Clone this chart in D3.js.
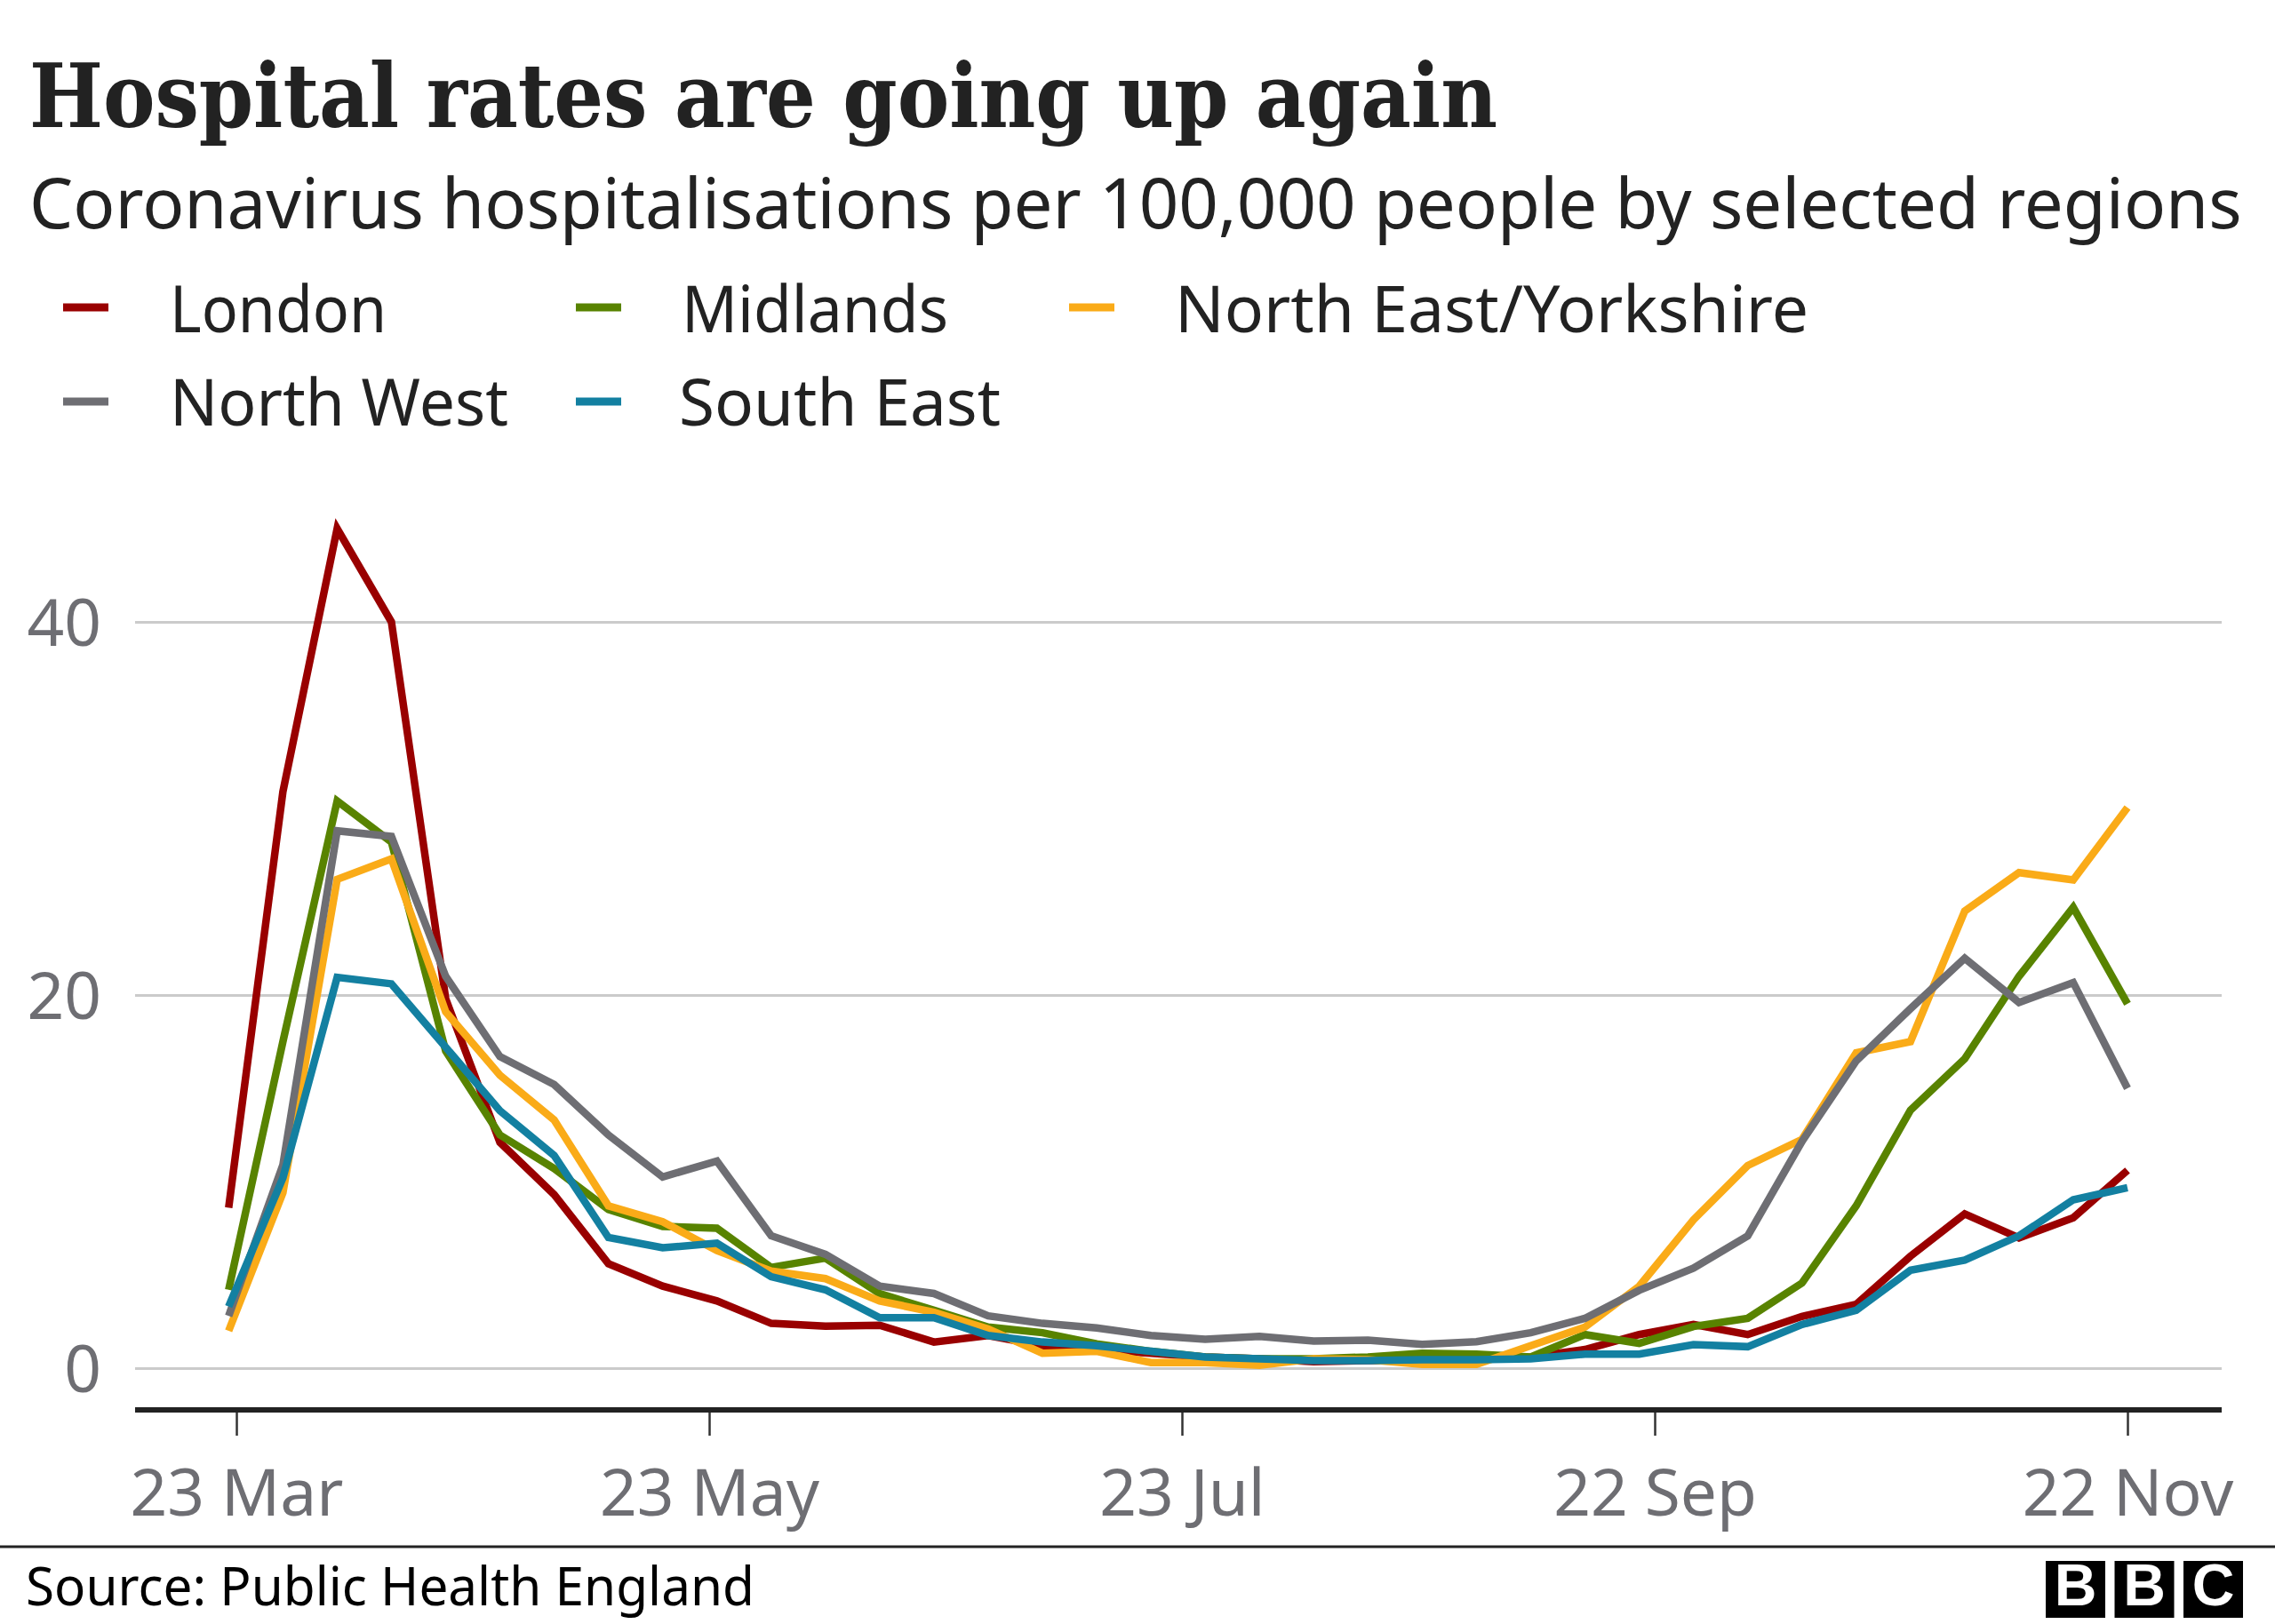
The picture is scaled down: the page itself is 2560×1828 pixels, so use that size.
<!DOCTYPE html>
<html>
<head>
<meta charset="utf-8">
<script src="https://cdn.jsdelivr.net/npm/d3@7"></script>
<style>
  html, body { margin: 0; padding: 0; background: #fff; }
  svg { display: block; }
</style>
</head>
<body>
<svg id="chart" width="2560" height="1828"></svg>
<script>
// ---------- DATA ----------
const dates = [
  "2020-03-22","2020-03-29","2020-04-05","2020-04-12","2020-04-19","2020-04-26",
  "2020-05-03","2020-05-10","2020-05-17","2020-05-24","2020-05-31","2020-06-07",
  "2020-06-14","2020-06-21","2020-06-28","2020-07-05","2020-07-12","2020-07-19",
  "2020-07-26","2020-08-02","2020-08-09","2020-08-16","2020-08-23","2020-08-30",
  "2020-09-06","2020-09-13","2020-09-20","2020-09-27","2020-10-04","2020-10-11",
  "2020-10-18","2020-10-25","2020-11-01","2020-11-08","2020-11-15","2020-11-22"
];
const seriesNames = ["London", "Midlands", "North East/Yorkshire", "North West", "South East"];
const london = [8.6, 30.9, 45.0, 40.0, 19.8, 12.1, 9.3, 5.6, 4.4, 3.6, 2.4, 2.25, 2.3, 1.4, 1.75, 1.2, 1.0, 0.8,
  0.6, 0.5, 0.35, 0.4, 0.4, 0.45, 0.6, 1.0, 1.8, 2.34, 1.8, 2.77, 3.42, 6.0, 8.27, 6.98, 8.06, 10.6];
const midlands = [4.2, 17.5, 30.4, 28.2, 17.0, 12.5, 10.7, 8.5, 7.6, 7.5, 5.4, 5.9, 4.0, 3.1, 2.2, 1.9, 1.3, 0.9,
  0.6, 0.5, 0.5, 0.6, 0.8, 0.75, 0.6, 1.8, 1.33, 2.23, 2.67, 4.56, 8.7, 13.83, 16.58, 21.0, 24.7, 19.53];
const northEastYorkshire = [2.0, 9.4, 26.2, 27.3, 19.1, 15.7, 13.3, 8.7, 7.85, 6.3, 5.2, 4.8, 3.6, 3.0, 2.1, 0.8, 0.9, 0.3,
  0.3, 0.15, 0.5, 0.45, 0.2, 0.2, 1.2, 2.2, 4.39, 7.95, 10.86, 12.26, 16.9, 17.5, 24.5, 26.56, 26.17, 30.05];
const northWest = [2.8, 10.9, 28.8, 28.5, 21.0, 16.7, 15.2, 12.5, 10.25, 11.1, 7.1, 6.1, 4.4, 4.0, 2.8, 2.4, 2.15, 1.75,
  1.55, 1.7, 1.45, 1.5, 1.27, 1.42, 1.9, 2.67, 4.17, 5.36, 7.09, 12.15, 16.47, 19.27, 21.97, 19.6, 20.67, 15.0];
const southEast = [3.3, 10.2, 20.95, 20.6, 17.2, 13.8, 11.4, 7.0, 6.45, 6.7, 4.9, 4.2, 2.7, 2.7, 1.75, 1.4, 1.2, 0.9,
  0.6, 0.5, 0.4, 0.4, 0.45, 0.45, 0.5, 0.75, 0.75, 1.26, 1.15, 2.34, 3.1, 5.25, 5.79, 7.09, 9.02, 9.67];
const seriesColors = ["#990000", "#588300", "#FAAB18", "#6E6E73", "#1380A1"];
const xTickDates = ["2020-03-23", "2020-05-23", "2020-07-23", "2020-09-22", "2020-11-22"];
const yTickValues = [0, 20, 40];

// ---------- SETUP ----------
const parse = d3.utcParse("%Y-%m-%d");
const svg = d3.select("#chart");
svg.append("rect").attr("width", 2560).attr("height", 1828).attr("fill", "#fff");

const SANS = "'Noto Sans', 'Open Sans', sans-serif";
const SERIF = "'DejaVu Serif Condensed', 'DejaVu Serif', serif";

const x = d3.scaleUtc()
  .domain([parse(dates[0]), parse(dates[dates.length - 1])])
  .range([257.3, 2394]);
const y = d3.scaleLinear().domain([0, 40]).range([1540, 700]);

const plotLeft = 152, plotRight = 2500;

// ---------- TITLES ----------
svg.append("text")
  .attr("x", 33).attr("y", 143)
  .attr("font-family", SERIF).attr("font-weight", "bold").attr("font-size", 100)
  .attr("fill", "#222222")
  .attr("textLength", 1652).attr("lengthAdjust", "spacingAndGlyphs")
  .text("Hospital rates are going up again");

// subtitle: sized so that its natural width fits inside the page
const sub = svg.append("text")
  .attr("x", 33).attr("y", 257)
  .attr("font-family", SANS).attr("font-size", 80)
  .attr("fill", "#222222")
  .text("Coronavirus hospitalisations per 100,000 people by selected regions");
const subW = sub.node().getComputedTextLength();
const subTarget = 2490;
if (subW > subTarget) sub.attr("font-size", 80 * subTarget / subW);

// ---------- LEGEND ----------
const legendLayout = [
  { sx: 71, lx: 191, cy: 346, base: 374, w: 244 },
  { sx: 648, lx: 767, cy: 346, base: 374, w: 300 },
  { sx: 1203, lx: 1322, cy: 346, base: 374, w: 713 },
  { sx: 71, lx: 191, cy: 452, base: 479, w: 381 },
  { sx: 648, lx: 764, cy: 452, base: 479, w: 362 }
];
const legend = svg.append("g");
seriesNames.forEach((name, i) => {
  const L = legendLayout[i];
  legend.append("rect")
    .attr("x", L.sx).attr("y", L.cy - 4.5).attr("width", 51).attr("height", 9)
    .attr("fill", seriesColors[i]);
  legend.append("text")
    .attr("x", L.lx).attr("y", L.base)
    .attr("font-family", SANS).attr("font-size", 73).attr("fill", "#222222")
    .attr("textLength", L.w).attr("lengthAdjust", "spacingAndGlyphs")
    .text(name);
});

// ---------- Y AXIS / GRID ----------
const yAxis = d3.axisLeft(y).tickValues(yTickValues).tickSize(-(plotRight - plotLeft)).tickFormat(d3.format("d"));
const gy = svg.append("g").attr("transform", `translate(${plotLeft},0)`).call(yAxis);
gy.select(".domain").remove();
gy.selectAll(".tick line").attr("stroke", "#cbcbcb").attr("stroke-width", 3);
gy.selectAll(".tick text")
  .attr("x", -38).attr("dy", null).attr("y", 26)
  .attr("text-anchor", "end")
  .attr("font-family", SANS).attr("font-size", 73).attr("fill", "#6e6e73");

// ---------- X AXIS ----------
svg.append("line")
  .attr("x1", plotLeft).attr("x2", plotRight).attr("y1", 1587).attr("y2", 1587)
  .attr("stroke", "#222222").attr("stroke-width", 6);
const xAxis = d3.axisBottom(x)
  .tickValues(xTickDates.map(parse))
  .tickFormat(d3.utcFormat("%-d %b"))
  .tickSize(26);
const gx = svg.append("g").attr("transform", "translate(0,1590)").call(xAxis);
gx.select(".domain").remove();
gx.selectAll(".tick line").attr("stroke", "#333333").attr("stroke-width", 2.5);
gx.selectAll(".tick text")
  .attr("dy", null).attr("y", 116)
  .attr("font-family", SANS).attr("font-size", 73).attr("fill", "#6e6e73");

// ---------- LINES ----------
const allSeries = [london, midlands, northEastYorkshire, northWest, southEast];
const line = d3.line()
  .x((d, i) => x(parse(dates[i])))
  .y(d => y(d));
const gl = svg.append("g");
allSeries.forEach((vals, i) => {
  gl.append("path")
    .datum(vals)
    .attr("d", line)
    .attr("fill", "none")
    .attr("stroke", seriesColors[i])
    .attr("stroke-width", 8.5)
    .attr("stroke-linejoin", "miter")
    .attr("stroke-linecap", "butt");
});

// ---------- FOOTER ----------
svg.append("line")
  .attr("x1", 0).attr("x2", 2560).attr("y1", 1741).attr("y2", 1741)
  .attr("stroke", "#222222").attr("stroke-width", 3);
svg.append("text")
  .attr("x", 29).attr("y", 1807)
  .attr("font-family", SANS).attr("font-size", 60).attr("fill", "#000000")
  .attr("textLength", 820).attr("lengthAdjust", "spacingAndGlyphs")
  .text("Source: Public Health England");

const logo = svg.append("g");
["B", "B", "C"].forEach((ch, i) => {
  const bx = 2302 + i * 77.5;
  logo.append("rect").attr("x", bx).attr("y", 1757).attr("width", 67).attr("height", 64).attr("fill", "#000");
  logo.append("text")
    .attr("x", bx + 33.5).attr("y", 1807)
    .attr("text-anchor", "middle")
    .attr("font-family", "'Liberation Sans', Arial, sans-serif").attr("font-weight", "bold")
    .attr("font-size", 66).attr("fill", "#fff")
    .text(ch);
});
</script>
</body>
</html>
